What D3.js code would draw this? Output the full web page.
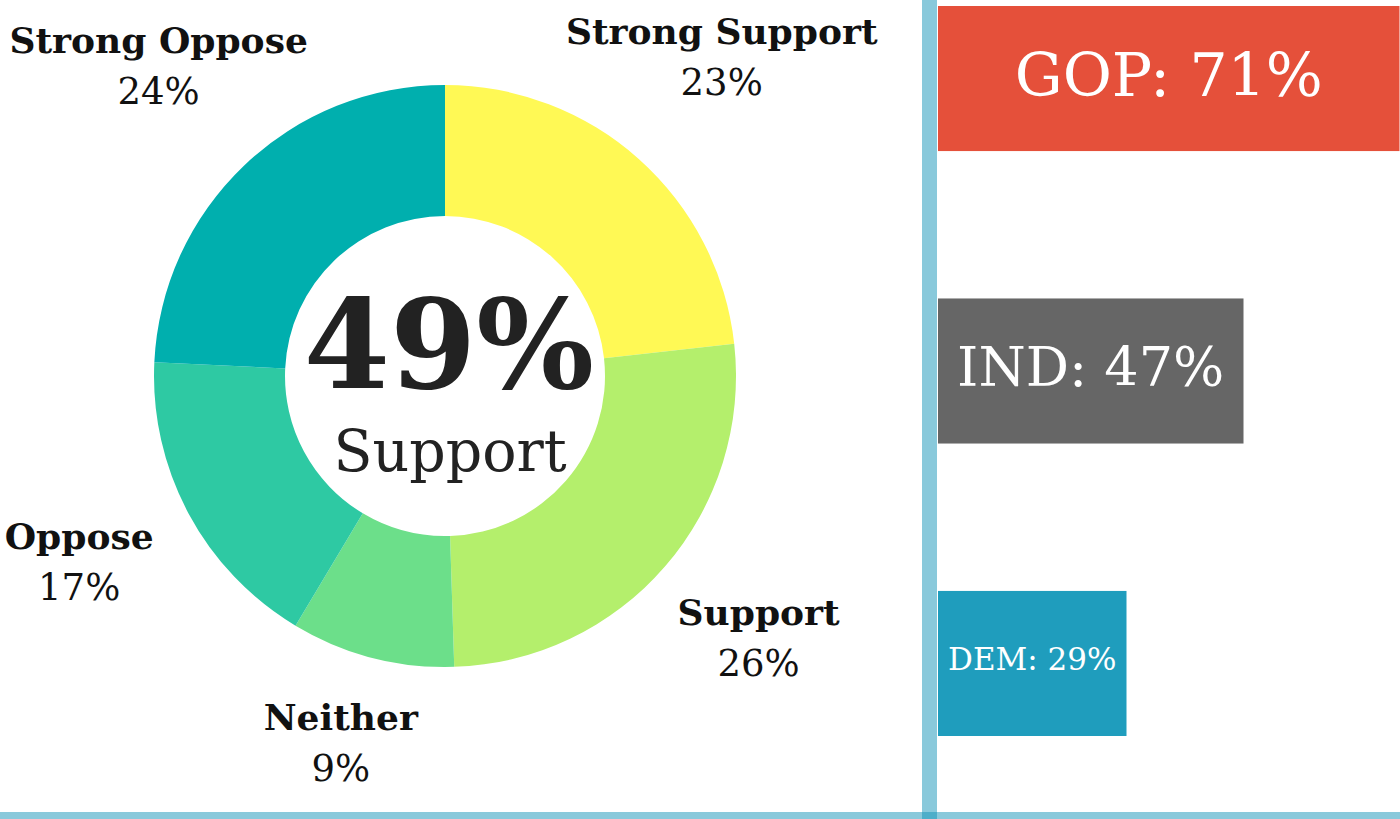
<!DOCTYPE html>
<meta charset="utf-8">
<title>Support by party</title>
<style>
  body { margin: 0; background-color: white; }
  svg { display: block; }
  text { font-family: "DejaVu Serif", serif; }
  .slice-label .name { font-weight: bold; fill: #111; }
  .slice-label .pct { fill: #111; }
  .party text { fill: white; }
</style>
<svg width="1400" height="819"></svg>
<script src="https://d3js.org/d3.v7.min.js"></script>
<script>
  // donut: opinion breakdown
  var opinions = ["Strong Support", "Support", "Neither", "Oppose", "Strong Oppose"];
  var opinionPct = [23, 26, 9, 17, 24];
  var opinionColors = ["#fff955", "#b4ef6c", "#6cdf8a", "#2ec9a3", "#00afae"];
  var totalSupport = 49;

  // bars: support by party
  var parties = ["GOP", "IND", "DEM"];
  var partyPct = [71, 47, 29];
  var partyColors = ["#e5503a", "#666666", "#1f9dbd"];
  var partyFont = [60, 54, 31];

  var svg = d3.select("svg"),
      width = +svg.attr("width"),
      height = +svg.attr("height");

  var cx = 445, cy = 376,
      outerR = 291, innerR = 160, labelR = 415;

  var slices = opinions.map(function(d, i) {
    return { name: d, value: opinionPct[i], color: opinionColors[i] };
  });

  var pie = d3.pie()
      .value(function(d) { return d.value; })
      .sort(null);

  var arc = d3.arc().innerRadius(innerR).outerRadius(outerR);
  var labelArc = d3.arc().innerRadius(labelR).outerRadius(labelR);

  var donut = svg.append("g")
      .attr("transform", "translate(" + cx + "," + cy + ")");

  donut.selectAll("path")
    .data(pie(slices))
    .enter().append("path")
      .attr("d", arc)
      .attr("fill", function(d) { return d.data.color; });

  // keep the bottom label clear of the bottom rule
  var maxLabelY = height - 81 - cy;

  var label = donut.selectAll(".slice-label")
    .data(pie(slices))
    .enter().append("g")
      .attr("class", "slice-label")
      .attr("transform", function(d) {
        var c = labelArc.centroid(d);
        return "translate(" + c[0] + "," + Math.min(c[1] - 15, maxLabelY) + ")";
      });

  label.append("text")
      .attr("class", "name")
      .attr("text-anchor", "middle")
      .attr("y", -8)
      .style("font-size", "36px")
      .text(function(d) { return d.data.name; });

  label.append("text")
      .attr("class", "pct")
      .attr("text-anchor", "middle")
      .attr("y", 43)
      .style("font-size", "37px")
      .text(function(d) { return d.data.value + "%"; });

  donut.append("text")
      .attr("text-anchor", "middle")
      .attr("x", 4)
      .attr("y", 12)
      .style("font-size", "124px")
      .style("font-weight", "bold")
      .style("fill", "#222")
      .text(totalSupport + "%");

  donut.append("text")
      .attr("text-anchor", "middle")
      .attr("x", 5)
      .attr("y", 95)
      .style("font-size", "57px")
      .style("fill", "#222")
      .text("Support");

  // party bars
  var barLeft = 938;
  var x = d3.scaleLinear().domain([0, 100]).range([0, 650]);
  var y = d3.scaleBand().domain(parties).range([6, 736]).paddingInner(0.504);

  var bar = svg.append("g")
      .attr("class", "party")
      .selectAll("g")
      .data(parties)
      .enter().append("g");

  bar.append("rect")
      .attr("x", barLeft)
      .attr("y", function(d) { return y(d); })
      .attr("width", function(d, i) { return x(partyPct[i]); })
      .attr("height", y.bandwidth())
      .attr("fill", function(d, i) { return partyColors[i]; });

  bar.append("text")
      .attr("text-anchor", "middle")
      .attr("x", function(d, i) { return barLeft + x(partyPct[i]) / 2; })
      .attr("y", function(d) { return y(d) + y.bandwidth() / 2 - 4; })
      .attr("dy", "0.35em")
      .style("font-size", function(d, i) { return partyFont[i] + "px"; })
      .text(function(d, i) { return d + ": " + partyPct[i] + "%"; });

  // divider lines
  svg.append("rect")
      .attr("x", 922).attr("y", 0)
      .attr("width", 15).attr("height", height)
      .attr("fill", "rgba(19,147,183,0.5)");

  svg.append("rect")
      .attr("x", 0).attr("y", 812)
      .attr("width", width).attr("height", 7)
      .attr("fill", "rgba(19,147,183,0.5)");
</script>
